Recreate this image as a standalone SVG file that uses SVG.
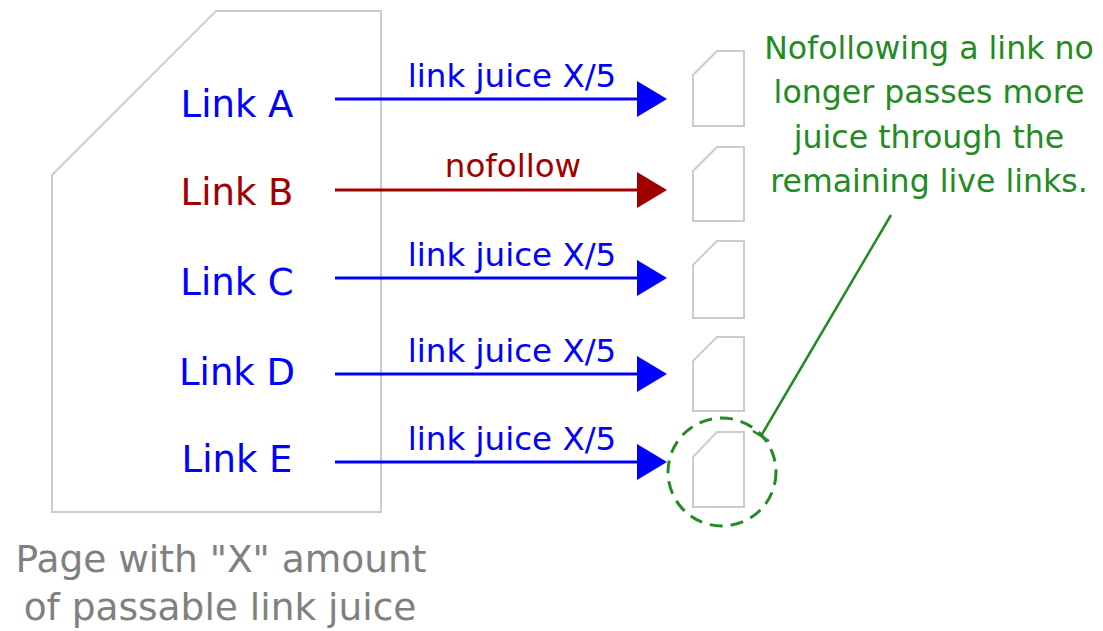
<svg xmlns="http://www.w3.org/2000/svg" width="1103" height="631" viewBox="0 0 1103 631">
<style>
.page{fill:#fff;stroke:#cccccc;stroke-width:2}
.lbl{font-family:"DejaVu Sans","Verdana",sans-serif;font-size:37px;text-anchor:middle}
.cap{font-family:"DejaVu Sans","Verdana",sans-serif;font-size:37.5px;text-anchor:middle}
.small{font-family:"DejaVu Sans","Verdana",sans-serif;font-size:32.5px;text-anchor:middle}
.note{font-family:"DejaVu Sans","Verdana",sans-serif;font-size:31.6px;text-anchor:middle}
.blue{fill:#0000ff}
.red{fill:#a00000}
.green{fill:#228b22}
.gray{fill:#808080}
.ablue{stroke:#0000ff;stroke-width:3;fill:none}
.ared{stroke:#a00000;stroke-width:3;fill:none}
</style>
<rect width="1103" height="631" fill="#ffffff"/>
<g id="source-page">
<polygon class="page" points="52,175 216,11 381,11 381,512 52,512"/>
<text class="cap gray" x="221" y="572">Page with "X" amount</text>
<text class="cap gray" x="220" y="620">of passable link juice</text>
</g>
<g id="link-a"><text class="lbl blue" x="237" y="117">Link A</text></g>
<g id="link-b"><text class="lbl red" x="237" y="205">Link B</text></g>
<g id="link-c"><text class="lbl blue" x="237" y="295">Link C</text></g>
<g id="link-d"><text class="lbl blue" x="237" y="385">Link D</text></g>
<g id="link-e"><text class="lbl blue" x="237" y="472">Link E</text></g>
<g id="target-a"><polygon class="page" points="693,75 717,51 744,51 744,126 693,126"/></g>
<g id="target-b"><polygon class="page" points="693,171 717,147 744,147 744,221 693,221"/></g>
<g id="target-c"><polygon class="page" points="693,265 717,241 744,241 744,318 693,318"/></g>
<g id="target-d"><polygon class="page" points="693,361 717,337 744,337 744,411 693,411"/></g>
<g id="target-e"><polygon class="page" points="693,457 717,432 744,432 744,507 693,507"/></g>
<g id="note">
<text class="note green" x="929" y="59">Nofollowing a link no</text>
<text class="note green" x="929" y="103">longer passes more</text>
<text class="note green" x="929" y="148">juice through the</text>
<text class="note green" x="929" y="192">remaining live links.</text>
</g>
<g id="connectors">
<line class="ablue" x1="335" y1="99" x2="640" y2="99"/>
<polygon points="637,81 667,99 637,117" fill="#0000ff"/>
<text class="small blue" x="512" y="87">link juice X/5</text>
<line class="ared" x1="335" y1="190" x2="640" y2="190"/>
<polygon points="637,172 667,190 637,208" fill="#a00000"/>
<text class="small red" x="513" y="177">nofollow</text>
<line class="ablue" x1="335" y1="278" x2="640" y2="278"/>
<polygon points="637,260 667,278 637,296" fill="#0000ff"/>
<text class="small blue" x="512" y="266">link juice X/5</text>
<line class="ablue" x1="335" y1="374" x2="640" y2="374"/>
<polygon points="637,356 667,374 637,392" fill="#0000ff"/>
<text class="small blue" x="512" y="362">link juice X/5</text>
<line class="ablue" x1="335" y1="462" x2="640" y2="462"/>
<polygon points="637,444 667,462 637,480" fill="#0000ff"/>
<text class="small blue" x="512" y="450">link juice X/5</text>
<circle cx="722" cy="472" r="54" fill="none" stroke="#228b22" stroke-width="3" stroke-dasharray="13,8"/>
<line x1="891" y1="215" x2="761" y2="436" stroke="#228b22" stroke-width="2.5"/>
<line x1="753" y1="431" x2="769" y2="441" stroke="#228b22" stroke-width="2.5"/>
</g>
</svg>
